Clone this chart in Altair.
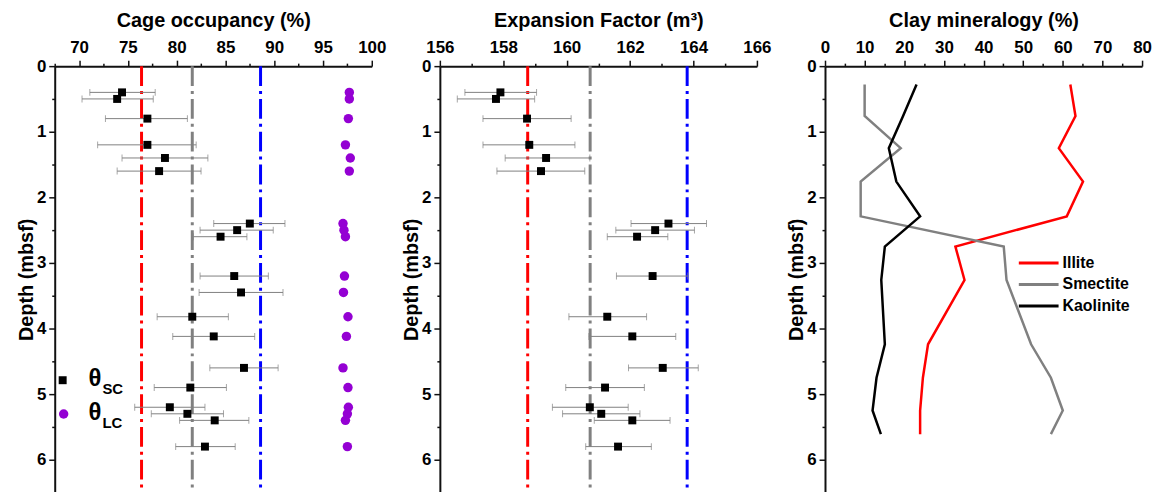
import altair as alt
import pandas as pd

FONT = "Liberation Sans"

# ---------------- data ----------------
depth_sc = [0.4, 0.5, 0.8, 1.2, 1.4, 1.6, 2.4, 2.5, 2.6, 3.2, 3.45, 3.82, 4.12, 4.6, 4.9, 5.2, 5.3, 5.4, 5.8]
occ_sc = [74.4, 73.9, 77.0, 77.0, 78.8, 78.2, 87.5, 86.2, 84.5, 85.9, 86.6, 81.6, 83.8, 86.9, 81.4, 79.3, 81.1, 83.9, 82.9]
occ_lo = [71.1, 70.3, 72.7, 71.9, 74.4, 73.9, 83.8, 82.4, 81.7, 82.4, 82.3, 78.0, 79.6, 83.4, 77.7, 75.7, 77.4, 80.3, 79.9]
occ_hi = [77.8, 77.6, 81.1, 82.0, 83.2, 82.5, 91.1, 89.9, 87.2, 89.4, 90.9, 85.3, 88.0, 90.4, 85.1, 82.9, 84.8, 87.4, 86.0]
occ_lc = [97.7, 97.7, 97.6, 97.3, 97.8, 97.7, 97.05, 97.15, 97.3, 97.2, 97.1, 97.56, 97.4, 97.05, 97.56, 97.6, 97.5, 97.3, 97.5]
occ_ref = [76.4, 81.6, 88.6]

depth_ef = [0.4, 0.5, 0.8, 1.2, 1.4, 1.6, 2.4, 2.5, 2.6, 3.2, 3.82, 4.12, 4.6, 4.9, 5.2, 5.3, 5.4, 5.8]
ef = [157.91, 157.77, 158.75, 158.82, 159.35, 159.19, 163.21, 162.79, 162.22, 162.71, 161.28, 162.07, 163.03, 161.21, 160.73, 161.09, 162.07, 161.62]
ef_lo = [156.79, 156.55, 157.36, 157.36, 158.06, 157.8, 162.03, 161.55, 161.28, 161.57, 160.07, 160.7, 161.95, 159.97, 159.55, 159.87, 160.87, 160.6]
ef_hi = [159.05, 158.99, 160.14, 160.26, 160.73, 160.57, 164.41, 164.03, 163.19, 163.82, 162.52, 163.44, 164.15, 162.45, 161.94, 162.31, 163.26, 162.67]
ef_ref = [158.77, 160.74, 163.8]

ref_names = ["low", "mid", "high"]
ref_colors = ["#ff0000", "#808080", "#0000ff"]

depth_clay = [0.28, 0.76, 1.25, 1.76, 2.29, 2.75, 3.26, 4.24, 4.75, 5.25, 5.61]
illite = [61.9, 63.2, 59.0, 65.1, 61.0, 32.9, 35.2, 26.0, 24.7, 24.0, 24.0]
smectite = [10.0, 10.0, 19.1, 9.0, 9.0, 45.1, 45.8, 52.0, 57.0, 60.0, 57.0]
kaolinite = [23.1, 19.7, 16.1, 18.0, 24.0, 15.1, 14.2, 15.1, 13.0, 12.0, 14.1]
minerals = ["Illite", "Smectite", "Kaolinite"]
mineral_colors = ["#ff0000", "#808080", "#000000"]

W, H = 319, 429
YDOM = [0, 6.5]

df_occ = pd.DataFrame({"depth": depth_sc, "sc": occ_sc, "lo": occ_lo, "hi": occ_hi, "lc": occ_lc})
df_ef = pd.DataFrame({"depth": depth_ef, "v": ef, "lo": ef_lo, "hi": ef_hi})
df_occ_ref = pd.DataFrame({"v": occ_ref, "k": ref_names})
df_ef_ref = pd.DataFrame({"v": ef_ref, "k": ref_names})
df_clay = pd.DataFrame({
    "depth": depth_clay * 3,
    "pct": illite + smectite + kaolinite,
    "mineral": [m for m in minerals for _ in depth_clay],
})


def y_enc(field="depth"):
    return alt.Y(
        f"{field}:Q",
        scale=alt.Scale(domain=YDOM, reverse=True, nice=False, zero=False),
        axis=alt.Axis(
            title="Depth (mbsf)",
            values=[i * 0.5 for i in range(14)],
            labelExpr="datum.value % 1 == 0 ? format(datum.value, 'd') : ''",
            tickSize={"condition": {"test": "datum.value % 1 != 0", "value": 3}, "value": 6},
            titlePadding=0,
            labelPadding=3,
            labelFlush=False,
        ),
    )


def x_axis(title, values, major):
    return alt.Axis(
        title=title,
        orient="top",
        values=values,
        labelExpr=f"abs(datum.value % {major}) < 0.001 ? format(datum.value, 'd') : ''",
        tickSize={"condition": {"test": f"abs(datum.value % {major}) > 0.001", "value": 3}, "value": 6},
        titlePadding=8,
        labelPadding=4,
        labelFlush=False,
    )


ref_color = alt.Color("k:N", scale=alt.Scale(domain=ref_names, range=ref_colors), legend=None)

# ---------------- panel 1 ----------------
x1 = alt.Scale(domain=[67.5, 100], nice=False, zero=False)
ax1 = x_axis("Cage occupancy (%)", [67.5 + 2.5 * i for i in range(14)], 5)

p1_ref = alt.Chart(df_occ_ref).mark_rule(strokeWidth=3, strokeDash=[20, 5, 3, 5]).encode(
    x=alt.X("v:Q", scale=x1, axis=ax1), color=ref_color
)
p1_err = alt.Chart(df_occ).mark_rule(color="#808080", strokeWidth=1).encode(
    x=alt.X("lo:Q", scale=x1, axis=ax1), x2="hi:Q", y=y_enc()
)
p1_capl = alt.Chart(df_occ).mark_tick(color="#808080", thickness=1, size=7, orient="vertical").encode(
    x=alt.X("lo:Q", scale=x1, axis=ax1), y=y_enc()
)
p1_capr = alt.Chart(df_occ).mark_tick(color="#808080", thickness=1, size=7, orient="vertical").encode(
    x=alt.X("hi:Q", scale=x1, axis=ax1), y=y_enc()
)
p1_sc = alt.Chart(df_occ).mark_point(shape="square", filled=True, color="black", size=64, opacity=1).encode(
    x=alt.X("sc:Q", scale=x1, axis=ax1), y=y_enc()
)
p1_lc = alt.Chart(df_occ).mark_point(shape="circle", filled=True, color="#9400d3", size=90, opacity=1).encode(
    x=alt.X("lc:Q", scale=x1, axis=ax1), y=y_enc()
)

one = alt.Data(values=[{"a": 1}])


def leg_sym(shape, color, size, x, y):
    return alt.Chart(one).mark_point(shape=shape, filled=True, color=color, size=size, opacity=1).encode(
        x=alt.value(x), y=alt.value(y)
    )


def leg_text(txt, x, y, fs):
    return alt.Chart(one).mark_text(
        text=txt, font=FONT, fontWeight="bold", fontSize=fs, align="left", baseline="middle", color="black"
    ).encode(x=alt.value(x), y=alt.value(y))


p1_leg = [
    leg_sym("square", "black", 64, 8, 316),
    leg_sym("circle", "#9400d3", 90, 9, 350),
    leg_text("θ", 34, 315, 24),
    leg_text("SC", 48, 325, 15),
    leg_text("θ", 34, 349, 24),
    leg_text("LC", 48, 359, 15),
]

panel1 = alt.layer(p1_ref, p1_err, p1_capl, p1_capr, p1_sc, p1_lc, *p1_leg).properties(width=W, height=H)

# ---------------- panel 2 ----------------
x2 = alt.Scale(domain=[156, 166], nice=False, zero=False)
ax2 = x_axis("Expansion Factor (m³)", list(range(156, 167)), 2)

p2_ref = alt.Chart(df_ef_ref).mark_rule(strokeWidth=3, strokeDash=[20, 5, 3, 5]).encode(
    x=alt.X("v:Q", scale=x2, axis=ax2), color=ref_color
)
p2_err = alt.Chart(df_ef).mark_rule(color="#808080", strokeWidth=1).encode(
    x=alt.X("lo:Q", scale=x2, axis=ax2), x2="hi:Q", y=y_enc()
)
p2_capl = alt.Chart(df_ef).mark_tick(color="#808080", thickness=1, size=7, orient="vertical").encode(
    x=alt.X("lo:Q", scale=x2, axis=ax2), y=y_enc()
)
p2_capr = alt.Chart(df_ef).mark_tick(color="#808080", thickness=1, size=7, orient="vertical").encode(
    x=alt.X("hi:Q", scale=x2, axis=ax2), y=y_enc()
)
p2_pt = alt.Chart(df_ef).mark_point(shape="square", filled=True, color="black", size=64, opacity=1).encode(
    x=alt.X("v:Q", scale=x2, axis=ax2), y=y_enc()
)
panel2 = alt.layer(p2_ref, p2_err, p2_capl, p2_capr, p2_pt).properties(width=W, height=H)

# ---------------- panel 3 ----------------
x3 = alt.Scale(domain=[0, 80], nice=False, zero=False)
ax3 = x_axis("Clay mineralogy (%)", list(range(0, 81, 5)), 10)

p3_lines = alt.Chart(df_clay).mark_line(strokeWidth=2.5).encode(
    x=alt.X("pct:Q", scale=x3, axis=ax3),
    y=y_enc(),
    color=alt.Color("mineral:N", scale=alt.Scale(domain=minerals, range=mineral_colors), legend=None),
    order=alt.Order("depth:Q"),
)


def leg_line(color, y):
    return alt.Chart(one).mark_rule(color=color, strokeWidth=3).encode(
        x=alt.value(195), x2=alt.value(235), y=alt.value(y)
    )


p3_leg = []
for i, (m, c) in enumerate(zip(minerals, mineral_colors)):
    yy = 198 + 21.7 * i
    p3_leg.append(leg_line(c, yy))
    p3_leg.append(leg_text(m, 239, yy, 16))

panel3 = alt.layer(p3_lines, *p3_leg).properties(width=W, height=H)

chart = alt.hconcat(panel1, panel2, panel3, spacing=68.5, bounds="flush").resolve_scale(
    color="independent"
).properties(
    padding={"left": 8, "top": 1, "right": 0, "bottom": 0}
).configure_view(stroke=None).configure_axis(
    labelFont=FONT,
    titleFont=FONT,
    labelFontSize=17,
    titleFontSize=20,
    labelFontWeight="bold",
    titleFontWeight="bold",
    labelColor="black",
    titleColor="black",
    domainColor="#111111",
    domainWidth=2,
    tickColor="#111111",
    tickWidth=1.5,
    grid=False,
)

chart.save("out.html", embed_options={"renderer": "svg", "actions": False})
